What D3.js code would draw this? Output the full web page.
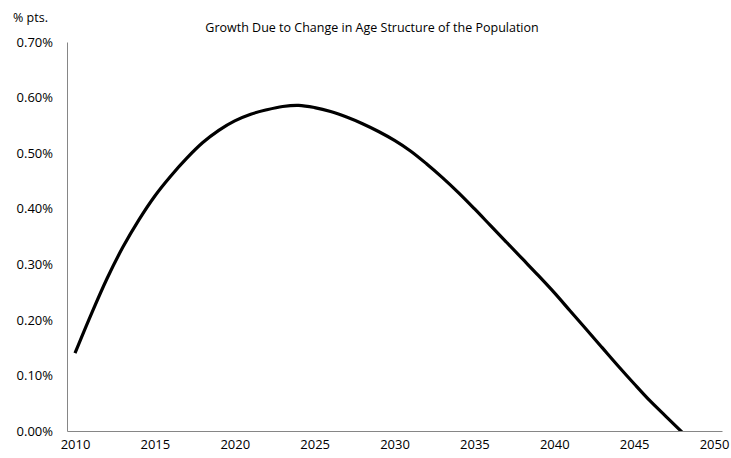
<!DOCTYPE html>
<html>
<head>
<meta charset="utf-8">
<script src="https://cdn.jsdelivr.net/npm/d3@7"></script>
<style>
  body { margin: 0; background: #fff; }
  text { font-family: "Open Sans", "Liberation Sans", sans-serif; fill: #000; }
</style>
</head>
<body>
<div id="chart"></div>
<script>
// data (percentage points)
var years = [2010, 2011, 2012, 2013, 2014, 2015, 2016, 2017, 2018, 2019,
             2020, 2021, 2022, 2023, 2024, 2025, 2026, 2027, 2028, 2029,
             2030, 2031, 2032, 2033, 2034, 2035, 2036, 2037, 2038, 2039,
             2040, 2041, 2042, 2043, 2044, 2045, 2046, 2047, 2048, 2049];
var growth = [0.140, 0.209, 0.274, 0.331, 0.380, 0.423, 0.459, 0.491, 0.519, 0.541,
              0.558, 0.570, 0.578, 0.584, 0.586, 0.582, 0.575, 0.565, 0.553, 0.539,
              0.523, 0.504, 0.481, 0.456, 0.429, 0.400, 0.370, 0.340, 0.310, 0.280,
              0.249, 0.216, 0.183, 0.150, 0.117, 0.085, 0.054, 0.026, -0.002, -0.030];
var xTicks = [2010, 2015, 2020, 2025, 2030, 2035, 2040, 2045, 2050];
var yTicks = [0, 0.1, 0.2, 0.3, 0.4, 0.5, 0.6, 0.7];
var title = "Growth Due to Change in Age Structure of the Population";

// set the dimensions and margins of the graph
var margin = {top: 42, right: 9, bottom: 27, left: 67},
    width = 731 - margin.left - margin.right,
    height = 458 - margin.top - margin.bottom;

var data = years.map(function(y, i) { return {year: y, value: growth[i]}; });

// set the ranges (category axis: half a year of padding each side)
var x = d3.scaleLinear().domain([2009.5, 2050.5]).range([0, width]);
var y = d3.scaleLinear().domain([0, 0.7]).range([height, 0]);

var svg = d3.select("#chart")
  .append("svg")
    .attr("width", 731)
    .attr("height", 458)
  .append("g")
    .attr("transform", "translate(" + margin.left + "," + margin.top + ")");

svg.append("defs").append("clipPath")
    .attr("id", "plot-clip")
  .append("rect")
    .attr("width", width)
    .attr("height", height);

// Y Axis
var yAxis = svg.append("g")
    .call(d3.axisLeft(y).tickValues(yTicks).tickSize(0).tickPadding(14)
      .tickFormat(function(d) { return d.toFixed(2) + "%"; }));
yAxis.select(".domain").attr("stroke", "#868686").attr("stroke-width", 1);
yAxis.selectAll("text").style("font-size", "13px");

// X Axis
var xAxis = svg.append("g")
    .attr("transform", "translate(0," + height + ")")
    .call(d3.axisBottom(x).tickValues(xTicks).tickSize(0).tickPadding(9)
      .tickFormat(d3.format("d")));
xAxis.select(".domain").attr("stroke", "#868686").attr("stroke-width", 1);
xAxis.selectAll("text").style("font-size", "13px");

// define the line
var valueline = d3.line()
    .curve(d3.curveCatmullRom)
    .x(function(d) { return x(d.year); })
    .y(function(d) { return y(d.value); });

svg.append("path")
    .datum(data)
    .attr("clip-path", "url(#plot-clip)")
    .attr("d", valueline)
    .attr("fill", "none")
    .attr("stroke", "#000")
    .attr("stroke-width", 3.2);

// titles
svg.append("text")
    .attr("x", 305)
    .attr("y", -10)
    .attr("text-anchor", "middle")
    .style("font-size", "12.5px")
    .text(title);

svg.append("text")
    .attr("x", -54)
    .attr("y", -20)
    .style("font-size", "12.5px")
    .text("% pts.");
</script>
</body>
</html>
